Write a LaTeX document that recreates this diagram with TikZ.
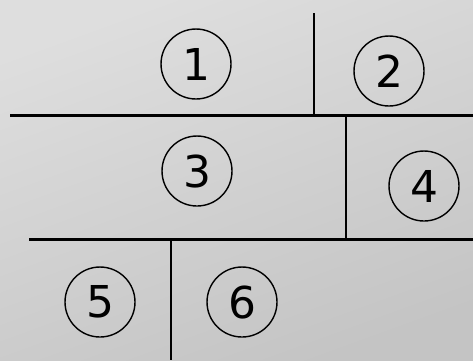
\documentclass[tikz,border=0pt]{standalone}
\usepackage{fontspec}
\setmainfont{DejaVu Sans}
\usepackage{tikz}

\begin{document}
\begin{tikzpicture}[x=0.02cm, y=-0.02cm, line width=1.7pt]
  \tikzstyle{num}=[draw, circle, line width=0.8pt, minimum size=1.4cm, inner sep=0pt,
    font=\fontsize{25}{25}\selectfont]

  % background
  \shade[top color=black!13, bottom color=black!23, shading angle=20]
    (0,0) rectangle (473,360);
  \useasboundingbox (0,0) rectangle (473,360);

  % partition lines
  \coordinate (v1t) at (314,13);
  \coordinate (v1b) at (314,115);
  \coordinate (h1l) at (10,115);
  \coordinate (h1r) at (473,115);
  \coordinate (v2b) at (346,239);
  \coordinate (h2l) at (29,239);
  \coordinate (h2r) at (473,239);
  \coordinate (v3b) at (171,360);

  \draw (v1t) -- (v1b);
  \draw (h1l) -- (h1r);
  \draw (v2b |- h1l) -- (v2b);
  \draw (h2l) -- (h2r);
  \draw (v3b |- h2l) -- (v3b);

  % numbered regions
  \node[num] (n1) at (196,64)  {1};
  \node[num] (n2) at (389,71)  {2};
  \node[num] (n3) at (197,171) {3};
  \node[num] (n4) at (424,186) {4};
  \node[num] (n5) at (100,302) {5};
  \node[num] (n6) at (242,302) {6};
\end{tikzpicture}
\end{document}
